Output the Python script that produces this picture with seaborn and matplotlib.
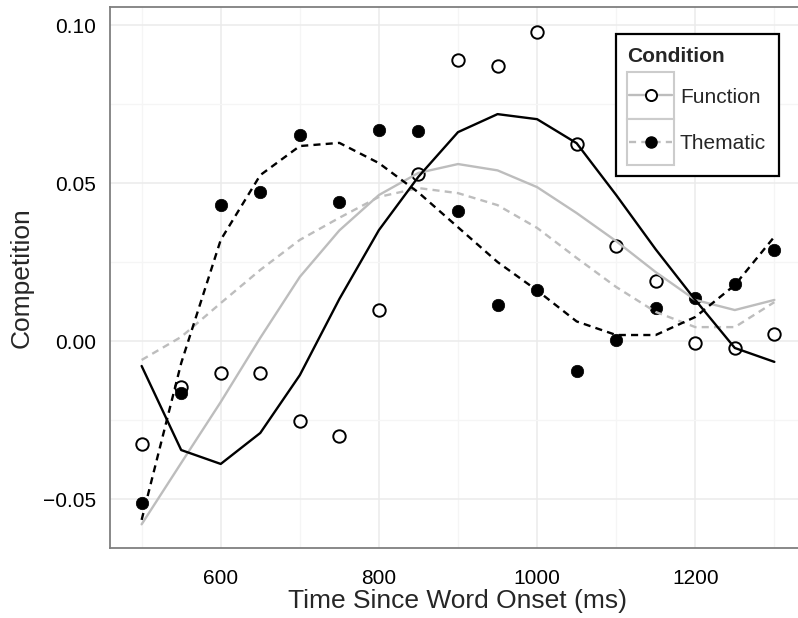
import numpy as np
import pandas as pd
import matplotlib
matplotlib.use("Agg")
import matplotlib.pyplot as plt
from matplotlib.lines import Line2D
from matplotlib.patches import Rectangle
from matplotlib.ticker import MultipleLocator
import seaborn as sns

time_ms = [500, 550, 600, 650, 700, 750, 800, 850, 900, 950, 1000, 1050, 1100, 1150, 1200, 1250, 1300]
function_obs = [-0.0326, -0.0146, -0.0101, -0.0101, -0.0253, -0.0300, 0.0098, 0.0530, 0.0888, 0.0869, 0.0977,
                0.0623, 0.0300, 0.0190, -0.0005, -0.0022, 0.0022]
thematic_obs = [-0.0513, -0.0165, 0.0430, 0.0472, 0.0652, 0.0440, 0.0668, 0.0665, 0.0411, 0.0114, 0.0161,
                -0.0095, 0.0003, 0.0104, 0.0136, 0.0180, 0.0288]
function_fit_black = [-0.0079, -0.0345, -0.0389, -0.0291, -0.0108, 0.0133, 0.0351, 0.0520, 0.0661, 0.0718,
                      0.0702, 0.0626, 0.0462, 0.0290, 0.0130, -0.0022, -0.0066]
function_fit_gray = [-0.0580, -0.0386, -0.0193, 0.0010, 0.0203, 0.0350, 0.0462, 0.0532, 0.0560, 0.0540,
                     0.0487, 0.0405, 0.0316, 0.0218, 0.0130, 0.0098, 0.0130]
thematic_fit_black = [-0.0566, -0.0070, 0.0320, 0.0525, 0.0617, 0.0627, 0.0563, 0.0470, 0.0360, 0.0250,
                      0.0160, 0.0062, 0.0019, 0.0019, 0.0076, 0.0177, 0.0330]
thematic_fit_gray = [-0.0060, 0.0013, 0.0120, 0.0225, 0.0320, 0.0390, 0.0456, 0.0484, 0.0468, 0.0430,
                     0.0358, 0.0263, 0.0171, 0.0092, 0.0044, 0.0044, 0.0123]
conditions = ["Function", "Thematic"]
legend_title = "Condition"
x_ticks = [600, 800, 1000, 1200]
y_ticks = [-0.05, 0.0, 0.05, 0.10]
y_tick_labels = ["\u22120.05", "0.00", "0.05", "0.10"]

# long data frames
obs = pd.DataFrame({
    "Time": time_ms * 2,
    "Competition": function_obs + thematic_obs,
    "Condition": ["Function"] * len(time_ms) + ["Thematic"] * len(time_ms),
})
fits = pd.DataFrame({
    "Time": time_ms * 4,
    "Competition": function_fit_gray + thematic_fit_gray + function_fit_black + thematic_fit_black,
    "Condition": (["Function"] * len(time_ms) + ["Thematic"] * len(time_ms)) * 2,
    "Model": ["gray"] * (2 * len(time_ms)) + ["black"] * (2 * len(time_ms)),
})

sns.set_style("white")
plt.rcParams["font.family"] = ["Liberation Sans", "DejaVu Sans"]

W, H = 798, 618
fig = plt.figure(figsize=(W / 100, H / 100), dpi=100)
ax = fig.add_axes([110 / W, 1 - 548 / H, (806 - 110) / W, (548 - 7) / H])

gray = "#bdbdbd"
dash = (3, 2.2)
# points
sns.scatterplot(data=obs[obs.Condition == "Function"], x="Time", y="Competition", ax=ax,
                marker="o", s=80, facecolor="white", edgecolor="black", linewidth=1.4,
                legend=False, zorder=2)
sns.scatterplot(data=obs[obs.Condition == "Thematic"], x="Time", y="Competition", ax=ax,
                marker="o", s=80, color="black", edgecolor="black", linewidth=0.5,
                legend=False, zorder=2)
# fitted lines
sns.lineplot(data=fits, x="Time", y="Competition", hue="Model", style="Condition",
             palette={"gray": gray, "black": "black"},
             dashes={"Function": "", "Thematic": dash},
             hue_order=["gray", "black"], linewidth=1.7, ax=ax, legend=False, zorder=3,
             sort=False)

ax.set_xlim(460, 1340)
ax.set_ylim(-0.0655, 0.1057)
ax.set_xticks(x_ticks)
ax.set_yticks(y_ticks)
ax.set_yticklabels(y_tick_labels)
ax.xaxis.set_minor_locator(MultipleLocator(100))
ax.yaxis.set_minor_locator(MultipleLocator(0.025))
ax.grid(which="major", color="#ebebeb", linewidth=1.1)
ax.grid(which="minor", color="#f5f5f5", linewidth=0.9)
ax.set_axisbelow(True)
ax.tick_params(which="major", direction="out", length=5, width=1.6, color="black",
               labelsize=15, labelcolor="black")
ax.tick_params(axis="x", pad=10)
ax.tick_params(axis="y", pad=5)
ax.tick_params(which="minor", length=0)
for sp in ax.spines.values():
    sp.set_color("#7f7f7f")
    sp.set_linewidth(1.3)
ax.set_xlabel("Time Since Word Onset (ms)", fontsize=19, labelpad=1)
ax.set_ylabel("Competition", fontsize=19, labelpad=7)

# ---- ggplot-style legend, laid out in figure pixels (top-left origin) ----
def fx(px):
    return px / W

def fy(py):
    return 1 - py / H

fs = 15
fig.add_artist(Rectangle((fx(616), fy(176)), fx(779) - fx(616), fy(34) - fy(176),
                         transform=fig.transFigure, facecolor="white", edgecolor="black",
                         linewidth=1.6, zorder=5))
fig.text(fx(627), fy(62), legend_title, fontsize=fs, fontweight="bold", ha="left",
         va="baseline", zorder=6)
key_left, key_w, key_h, key_top = 627, 47, 46.5, 72
styles = [
    dict(linestyle="-", markerfacecolor="white", markeredgewidth=1.4),
    dict(linestyle=(0, dash), markerfacecolor="black", markeredgewidth=1.0),
]
for i, (lab, st) in enumerate(zip(conditions, styles)):
    top = key_top + i * key_h
    yc = top + key_h / 2
    fig.add_artist(Rectangle((fx(key_left), fy(top + key_h)), fx(key_w), key_h / H,
                             transform=fig.transFigure, facecolor="white", edgecolor="#cccccc",
                             linewidth=1.5, zorder=6))
    fig.add_artist(Line2D([fx(key_left + 2), fx(key_left + key_w - 2)], [fy(yc), fy(yc)],
                          transform=fig.transFigure, color=gray, linewidth=1.7,
                          linestyle=st["linestyle"], zorder=7))
    fig.add_artist(Line2D([fx(key_left + key_w / 2)], [fy(yc)], transform=fig.transFigure,
                          linestyle="none", marker="o", markersize=8.0,
                          markerfacecolor=st["markerfacecolor"], markeredgecolor="black",
                          markeredgewidth=st["markeredgewidth"], zorder=8))
    fig.text(fx(680), fy(yc + 7.5), lab, fontsize=fs, ha="left", va="baseline", zorder=8)

fig.savefig("out.png", dpi=100)
